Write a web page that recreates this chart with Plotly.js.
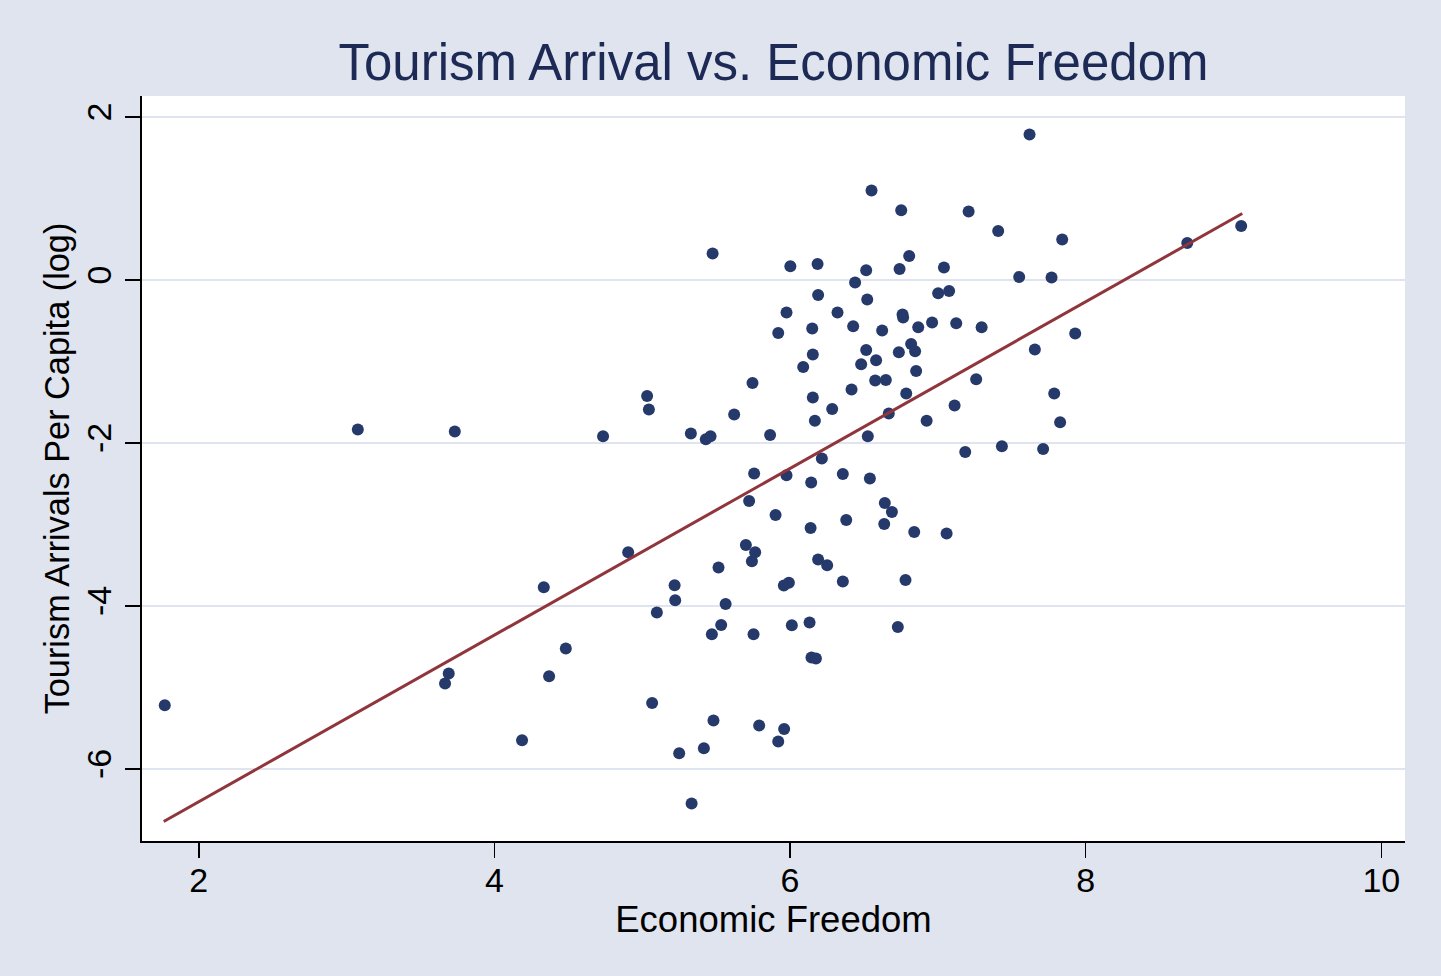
<!DOCTYPE html>
<html>
<head>
<meta charset="utf-8">
<script src="https://cdn.plot.ly/plotly-3.0.1.min.js"></script>
<style>html,body{margin:0;padding:0;background:#dfe4ee;}#chart{width:1441px;height:976px;}</style>
</head>
<body>
<div id="chart"></div>
<script>
// Economic Freedom (x) and Tourism Arrivals Per Capita, log (y)
const freedom = [
  1.770, 3.076, 3.732, 3.666, 3.691, 4.187, 4.334, 4.370, 4.483, 4.735,
  4.905, 5.033, 5.045, 5.067, 5.099, 5.219, 5.223, 5.250, 5.329, 5.334,
  5.417, 5.430, 5.462, 5.476, 5.471, 5.482, 5.516, 5.534, 5.564, 5.622,
  5.701, 5.723, 5.742, 5.764, 5.746, 5.757, 5.753, 5.791, 5.865, 5.902,
  5.920, 5.920, 5.960, 5.958, 5.976, 5.976, 6.002, 5.992, 6.012, 6.089,
  6.139, 6.132, 6.143, 6.150, 6.154, 6.154, 6.145, 6.175, 6.168, 6.186,
  6.190, 6.190, 6.215, 6.251, 6.285, 6.321, 6.357, 6.357, 6.380, 6.416,
  6.427, 6.440, 6.481, 6.515, 6.522, 6.515, 6.526, 6.540, 6.551, 6.582,
  6.576, 6.623, 6.641, 6.637, 6.648, 6.668, 6.689, 6.729, 6.736, 6.741,
  6.752, 6.761, 6.765, 6.781, 6.786, 6.806, 6.819, 6.846, 6.840, 6.853,
  6.867, 6.924, 6.961, 7.002, 7.041, 7.059, 7.076, 7.113, 7.124, 7.185,
  7.208, 7.259, 7.296, 7.408, 7.433, 7.550, 7.620, 7.656, 7.712, 7.769,
  7.787, 7.827, 7.841, 7.929, 8.687, 9.052
];
const arrivals = [
  -5.217, -1.834, -1.859, -4.951, -4.828, -5.647, -3.769, -4.861, -4.521, -1.917,
  -3.340, -1.422, -1.589, -5.189, -4.080, -3.745, -3.929, -5.806, -1.883, -6.423,
  -5.745, -1.953, -1.917, 0.325, -4.346, -5.405, -3.528, -4.232, -3.974, -1.650,
  -3.250, -2.710, -3.450, -3.340, -1.263, -2.374, -4.346, -5.466, -1.901, -2.882,
  -0.649, -5.663, -5.508, -3.748, -2.395, -0.399, 0.169, -3.714, -4.236, -1.066,
  -3.042, -4.202, -2.485, -0.595, -0.914, -1.442, -4.632, -4.644, -1.726, 0.198,
  -0.183, -3.429, -2.190, -3.499, -1.582, -0.399, -2.379, -3.699, -2.944, -1.344,
  -0.567, -0.031, -1.033, 0.120, -0.239, -0.858, -1.917, -2.436, 1.098, -0.984,
  -1.233, -0.620, -2.735, -2.993, -1.226, -1.638, -2.845, -4.256, -0.886, 0.136,
  0.856, -0.423, -0.460, -3.680, -1.393, 0.296, -0.784, -0.874, -3.091, -1.115,
  -0.579, -1.726, -0.521, -0.162, 0.153, -3.110, -0.134, -1.540, -0.530, -2.109,
  0.840, -1.217, -0.579, 0.602, -2.039, 0.038, 1.785, -0.853, -2.072, 0.031,
  -1.393, -1.745, 0.497, -0.656, 0.455, 0.664
];
// Fitted values line (endpoints)
const fitX = [1.763, 9.059];
const fitY = [-6.644, 0.816];

const xTicks = [2, 4, 6, 8, 10];
const yTicks = [-6, -4, -2, 0, 2];

const FONT = '"Liberation Sans", Arial, Helvetica, sans-serif';

const traces = [
  {
    x: freedom, y: arrivals, type: 'scatter', mode: 'markers',
    marker: {size: 12, color: '#26396b', line: {width: 0}},
    hoverinfo: 'x+y', showlegend: false
  },
  {
    x: fitX, y: fitY, type: 'scatter', mode: 'lines',
    line: {color: '#90353b', width: 3},
    hoverinfo: 'skip', showlegend: false
  }
];

const layout = {
  width: 1441, height: 976,
  paper_bgcolor: '#dfe4ee',
  plot_bgcolor: '#ffffff',
  margin: {l: 142, r: 36, t: 96, b: 135, pad: 0},
  font: {family: FONT, color: '#000000', size: 34},
  showlegend: false,
  title: {
    text: 'Tourism Arrival vs. Economic Freedom',
    font: {family: FONT, size: 51, color: '#1c2a55'},
    x: 0.5, xref: 'paper', xanchor: 'center',
    y: 0.936, yref: 'container', yanchor: 'middle'
  },
  xaxis: {
    range: [1.616, 10.16],
    tickvals: xTicks, ticktext: xTicks.map(String),
    showgrid: false, zeroline: false,
    showline: true, linecolor: '#000000', linewidth: 1.6, mirror: false,
    ticks: 'outside', ticklen: 15, tickwidth: 1.6, tickcolor: '#000000',
    tickfont: {family: FONT, size: 34, color: '#000000'},
    ticklabelstandoff: -6,
    title: {text: 'Economic Freedom', font: {family: FONT, size: 36.5, color: '#000000'}, standoff: 0}
  },
  yaxis: {
    range: [-6.883, 2.258],
    tickvals: yTicks, ticktext: yTicks.map(String),
    tickangle: -90,
    showgrid: true, gridcolor: '#dfe4ee', gridwidth: 2.8,
    zeroline: false,
    showline: true, linecolor: '#000000', linewidth: 1.6, mirror: false,
    ticks: 'outside', ticklen: 15, tickwidth: 1.6, tickcolor: '#000000',
    tickfont: {family: FONT, size: 34, color: '#000000'},
    ticklabelstandoff: 1,
    title: {text: 'Tourism Arrivals Per Capita (log)', font: {family: FONT, size: 34.3, color: '#000000'}, standoff: 0}
  }
};

Plotly.newPlot('chart', traces, layout, {displayModeBar: false, staticPlot: true});
</script>
</body>
</html>
